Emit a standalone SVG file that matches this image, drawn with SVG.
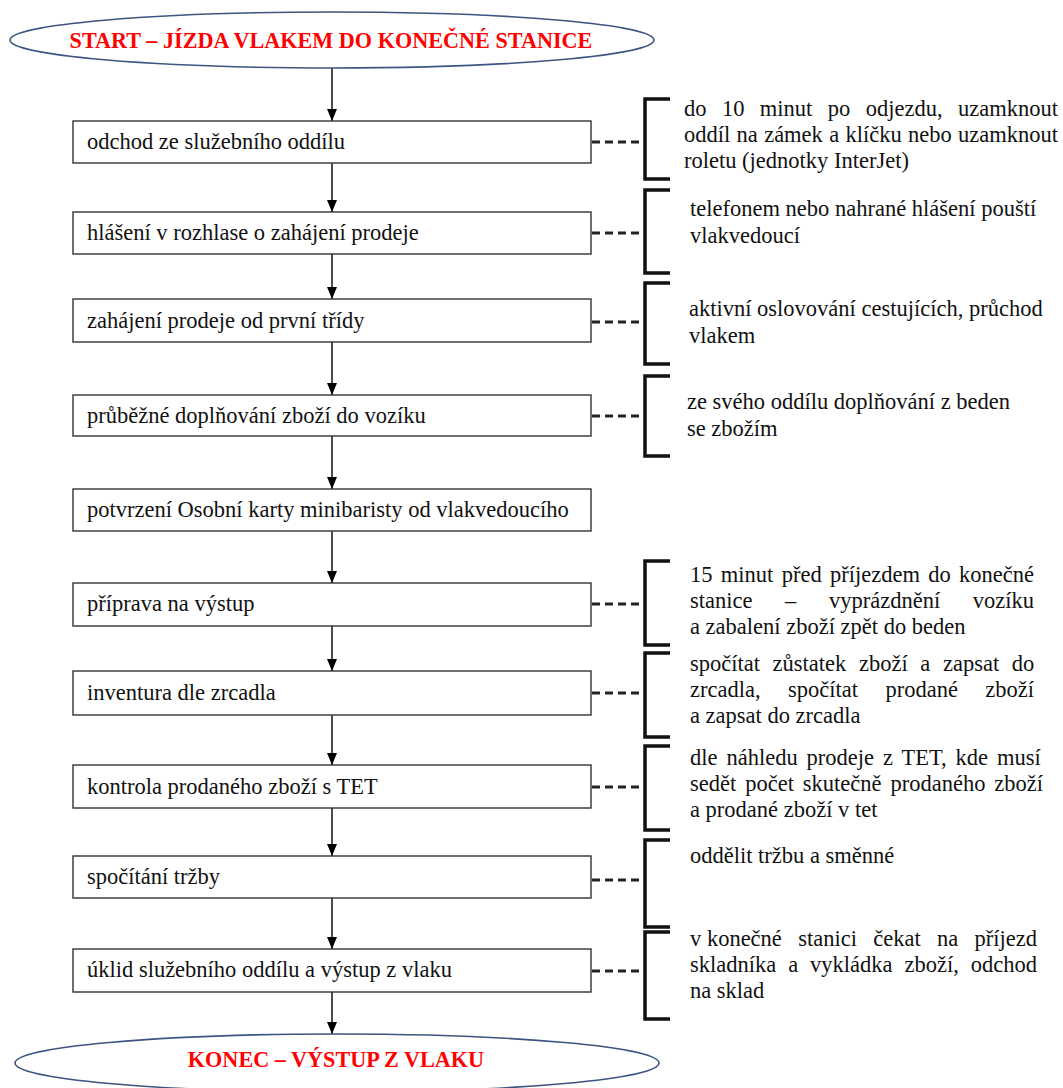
<svg xmlns="http://www.w3.org/2000/svg" width="1063" height="1088" viewBox="0 0 1063 1088">
<defs>
<marker id="ah" viewBox="0 0 12 10" refX="12" refY="5" markerWidth="12" markerHeight="10" markerUnits="userSpaceOnUse" orient="auto">
<path d="M0,0 L12,5 L0,10 z" fill="#000"/>
</marker>
<style>
.term{fill:#fff;stroke:#3d5582;stroke-width:1.6}
.tt{font-family:"Liberation Serif","Times New Roman",serif;font-weight:bold;font-size:22.2px;fill:#ff0000;text-anchor:middle}
.box{fill:#fff;stroke:#333;stroke-width:1.4}
.bt{font-family:"Liberation Serif","Times New Roman",serif;font-size:22.5px;fill:#111}
.nt{font-family:"Liberation Serif","Times New Roman",serif;font-size:22.5px;fill:#111}
.arr{stroke:#000;stroke-width:1.4;fill:none;marker-end:url(#ah)}
.dash{stroke:#222;stroke-width:3;stroke-dasharray:8 5;fill:none}
.br{stroke:#111;stroke-width:3.5;fill:none}
</style>
</defs>
<rect width="1063" height="1088" fill="#fff"/>

<g id="connectors">
<line class="arr" x1="332" y1="68" x2="332" y2="121"/>
<line class="arr" x1="332" y1="163" x2="332" y2="212"/>
<line class="arr" x1="332" y1="254" x2="332" y2="299"/>
<line class="arr" x1="332" y1="342" x2="332" y2="395"/>
<line class="arr" x1="332" y1="436" x2="332" y2="489"/>
<line class="arr" x1="332" y1="531" x2="332" y2="583"/>
<line class="arr" x1="332" y1="626" x2="332" y2="671"/>
<line class="arr" x1="332" y1="715" x2="332" y2="765"/>
<line class="arr" x1="332" y1="808" x2="332" y2="856"/>
<line class="arr" x1="332" y1="898" x2="332" y2="949"/>
<line class="arr" x1="332" y1="992" x2="332" y2="1034"/>
<line class="dash" x1="592" y1="142" x2="645" y2="142"/>
<line class="dash" x1="592" y1="233" x2="645" y2="233"/>
<line class="dash" x1="592" y1="322" x2="645" y2="322"/>
<line class="dash" x1="592" y1="416" x2="645" y2="416"/>
<line class="dash" x1="592" y1="604" x2="645" y2="604"/>
<line class="dash" x1="592" y1="693" x2="645" y2="693"/>
<line class="dash" x1="592" y1="787" x2="645" y2="787"/>
<line class="dash" x1="592" y1="880" x2="645" y2="880"/>
<line class="dash" x1="592" y1="971" x2="645" y2="971"/>
</g>

<g id="start">
<ellipse class="term" cx="332" cy="40" rx="322" ry="28"/>
<text class="tt" x="331" y="48">START – JÍZDA VLAKEM DO KONEČNÉ STANICE</text>
</g>

<g id="step1">
<rect class="box" x="73" y="121" width="518" height="42"/>
<text class="bt" x="87" y="149">odchod ze služebního oddílu</text>
</g>
<g id="note1">
<path class="br" d="M670,99 H645 V179 H670"/>
<text class="nt" x="684" y="116" word-spacing="9.8">do 10 minut po odjezdu, uzamknout</text>
<text class="nt" x="684" y="142" word-spacing="0.7">oddíl na zámek a klíčku nebo uzamknout</text>
<text class="nt" x="684" y="168">roletu (jednotky InterJet)</text>
</g>

<g id="step2">
<rect class="box" x="73" y="212" width="518" height="42"/>
<text class="bt" x="87" y="240">hlášení v rozhlase o zahájení prodeje</text>
</g>
<g id="note2">
<path class="br" d="M670,190 H645 V273 H670"/>
<text class="nt" x="690" y="216">telefonem nebo nahrané hlášení pouští</text>
<text class="nt" x="690" y="243">vlakvedoucí</text>
</g>

<g id="step3">
<rect class="box" x="73" y="299" width="518" height="43"/>
<text class="bt" x="87" y="328">zahájení prodeje od první třídy</text>
</g>
<g id="note3">
<path class="br" d="M670,283 H645 V364 H670"/>
<text class="nt" x="689" y="316">aktivní oslovování cestujících, průchod</text>
<text class="nt" x="689" y="343">vlakem</text>
</g>

<g id="step4">
<rect class="box" x="73" y="395" width="518" height="41"/>
<text class="bt" x="87" y="423">průběžné doplňování zboží do vozíku</text>
</g>
<g id="note4">
<path class="br" d="M670,376 H645 V456 H670"/>
<text class="nt" x="687" y="409">ze svého oddílu doplňování z beden</text>
<text class="nt" x="687" y="436">se zbožím</text>
</g>

<g id="step5">
<rect class="box" x="73" y="489" width="518" height="42"/>
<text class="bt" x="87" y="517">potvrzení Osobní karty minibaristy od vlakvedoucího</text>
</g>

<g id="step6">
<rect class="box" x="73" y="583" width="518" height="43"/>
<text class="bt" x="87" y="611">příprava na výstup</text>
</g>
<g id="note6">
<path class="br" d="M670,561 H645 V645 H670"/>
<text class="nt" x="690" y="582" word-spacing="2.7">15 minut před příjezdem do konečné</text>
<text class="nt" x="690" y="608" word-spacing="27">stanice – vyprázdnění vozíku</text>
<text class="nt" x="690" y="634">a zabalení zboží zpět do beden</text>
</g>

<g id="step7">
<rect class="box" x="73" y="671" width="518" height="44"/>
<text class="bt" x="87" y="700">inventura dle zrcadla</text>
</g>
<g id="note7">
<path class="br" d="M670,653 H645 V737 H670"/>
<text class="nt" x="690" y="671" word-spacing="7">spočítat zůstatek zboží a zapsat do</text>
<text class="nt" x="690" y="697" word-spacing="21.8">zrcadla, spočítat prodané zboží</text>
<text class="nt" x="690" y="723">a zapsat do zrcadla</text>
</g>

<g id="step8">
<rect class="box" x="73" y="765" width="518" height="43"/>
<text class="bt" x="87" y="794">kontrola prodaného zboží s TET</text>
</g>
<g id="note8">
<path class="br" d="M670,746 H645 V830 H670"/>
<text class="nt" x="690" y="765" word-spacing="3.3">dle náhledu prodeje z TET, kde musí</text>
<text class="nt" x="690" y="791" word-spacing="3.3">sedět počet skutečně prodaného zboží</text>
<text class="nt" x="690" y="817">a prodané zboží v tet</text>
</g>

<g id="step9">
<rect class="box" x="73" y="856" width="518" height="42"/>
<text class="bt" x="87" y="884">spočítání tržby</text>
</g>
<g id="note9">
<path class="br" d="M670,840 H645 V927 H670"/>
<text class="nt" x="690" y="863">oddělit tržbu a směnné</text>
</g>

<g id="step10">
<rect class="box" x="73" y="949" width="518" height="43"/>
<text class="bt" x="87" y="977">úklid služebního oddílu a výstup z vlaku</text>
</g>
<g id="note10">
<path class="br" d="M670,932 H645 V1019 H670"/>
<text class="nt" x="690" y="946">v <tspan word-spacing="10.7">konečné stanici čekat na příjezd</tspan></text>
<text class="nt" x="690" y="972" word-spacing="6.3">skladníka a vykládka zboží, odchod</text>
<text class="nt" x="690" y="998">na sklad</text>
</g>

<g id="end">
<ellipse class="term" cx="337" cy="1063" rx="322" ry="29"/>
<text class="tt" x="336" y="1067">KONEC – VÝSTUP Z VLAKU</text>
</g>
</svg>
